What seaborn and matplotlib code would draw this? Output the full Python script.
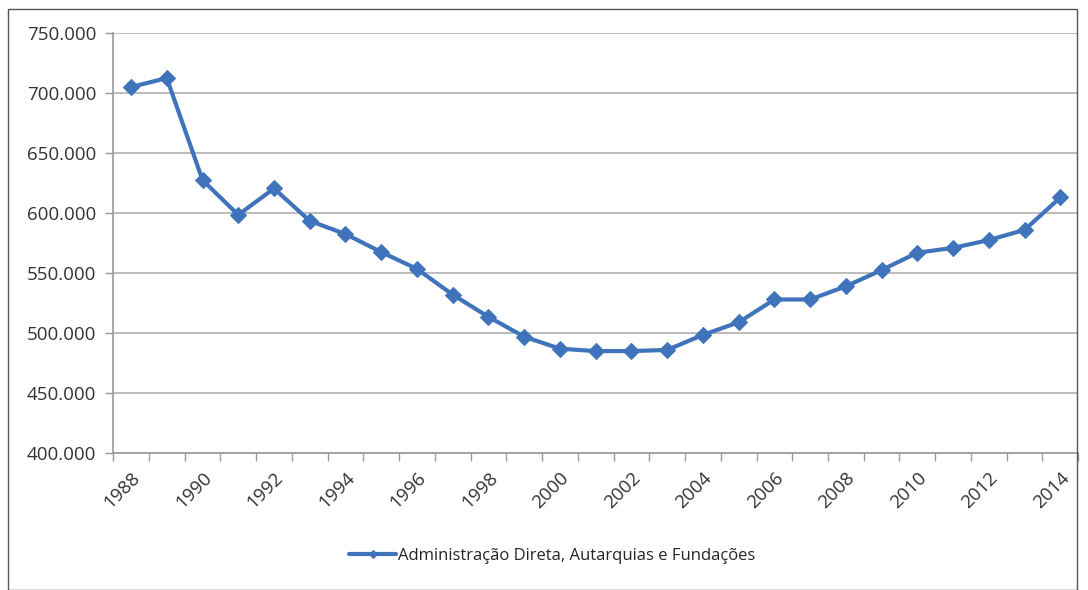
import matplotlib
matplotlib.use("Agg")
import matplotlib.pyplot as plt
import matplotlib.ticker as mticker
from matplotlib.patches import Rectangle
import seaborn as sns
import pandas as pd

years = list(range(1988, 2015))
values = [705000, 712500, 627500, 598500, 620500, 593500, 582500, 567500, 553500,
          532000, 513500, 497000, 487000, 485000, 485000, 486000, 498500, 509000,
          528000, 528000, 539000, 552500, 567000, 571000, 577500, 586000, 613000]
series_name = "Administração Direta, Autarquias e Fundações"
tick_years = list(range(1988, 2015, 2))

df = pd.DataFrame({"Ano": years, "Valor": values, "Série": series_name})

sns.set_theme(style="white")
plt.rcParams['font.family'] = ['Open Sans', 'DejaVu Sans']

fig = plt.figure(figsize=(10.88, 5.9), dpi=100)
ax = fig.add_axes([0.104, 0.232, 0.887, 0.712])

color = "#3F74BC"
sns.lineplot(data=df, x="Ano", y="Valor", hue="Série", palette=[color], ax=ax,
             marker="D", markersize=8, linewidth=3, markeredgecolor=color)

ax.set_xlim(1987.5, 2014.5)
ax.set_ylim(400000, 750000)
ax.yaxis.set_major_locator(mticker.MultipleLocator(50000))
ax.yaxis.set_major_formatter(mticker.FuncFormatter(lambda v, p: f"{int(v):,}".replace(",", ".")))
ax.set_xticks(tick_years)
ax.set_xticklabels([str(y) for y in tick_years], rotation=45, ha="right", rotation_mode="anchor")
ax.set_xticks([y + 0.5 for y in range(1987, 2015)], minor=True)
ax.tick_params(axis="x", which="major", length=0, pad=11, labelsize=13.5, colors="#333333")
ax.tick_params(axis="x", which="minor", length=6, width=1, color="#999999", bottom=True)
ax.tick_params(axis="y", length=6, width=1, color="#999999", left=True, labelsize=13.5,
               labelcolor="#333333", pad=6)
ax.grid(axis="y", color="#B0B0B0", linewidth=1.2)
ax.set_axisbelow(True)
for s in ["top", "right"]:
    ax.spines[s].set_visible(False)
for s in ["left", "bottom"]:
    ax.spines[s].set_color("#999999")
    ax.spines[s].set_linewidth(1.2)
ax.set_xlabel("")
ax.set_ylabel("")

ax.legend(loc="upper center", bbox_to_anchor=(0.455, -0.19), frameon=False,
          fontsize=12, handlelength=2.8, handletextpad=0.1, markerscale=0.5)

fig.patches.append(Rectangle((8/1088, 0), 1077/1088 - 8/1088, 1 - 8/590 - 0.001,
                             transform=fig.transFigure, fill=False,
                             edgecolor="#555555", linewidth=1))

fig.savefig("out.png", dpi=100)
